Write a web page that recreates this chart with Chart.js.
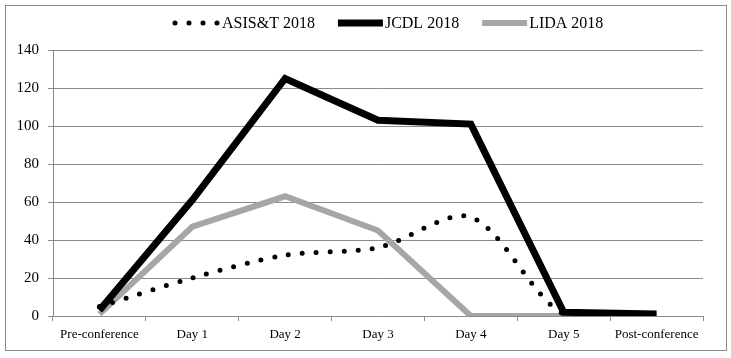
<!DOCTYPE html>
<html>
<head>
<meta charset="utf-8">
<script src="https://cdn.jsdelivr.net/npm/chart.js@4.4.1/dist/chart.umd.min.js"></script>
<style>
  body { margin: 0; background: #fff; }
  #frame { position: absolute; left: 5px; top: 5px; width: 720px; height: 344px; border: 1px solid #8a8a8a; }
  #wrap { position: absolute; left: 0; top: 0; width: 731px; height: 358px; }
</style>
</head>
<body>
<div id="frame"></div>
<div id="wrap"><canvas id="chart"></canvas></div>
<script>
const categories = ["Pre-conference", "Day 1", "Day 2", "Day 3", "Day 4", "Day 5", "Post-conference"];
const seriesNames = ["ASIS&T 2018", "JCDL 2018", "LIDA 2018"];
const asist = [5, 20, 32, 36, 52, 1, 1];
const jcdl = [3, 61, 125, 103, 101, 2, 1];
const lida = [1, 47, 63, 45, 0, 0, 0];
const yMin = 0;
const yMax = 140;
const yStep = 20;

const serif = "'Liberation Serif', 'Times New Roman', serif";
const gridGray = "#8a8a8a";

// legend drawn by hand so it sits where the original one does
const legendPlugin = {
  id: "topLegend",
  afterDraw(chart) {
    const ctx = chart.ctx;
    const y = 23;
    let x = 175;
    ctx.save();
    ctx.font = "16px " + serif;
    ctx.textBaseline = "middle";
    chart.data.datasets.forEach((ds) => {
      ctx.beginPath();
      ctx.strokeStyle = ds.borderColor;
      ctx.lineWidth = ds.borderWidth;
      ctx.lineCap = ds.borderCapStyle || "butt";
      ctx.setLineDash(ds.borderDash || []);
      ctx.moveTo(x, y);
      ctx.lineTo(x + 45, y);
      ctx.stroke();
      ctx.setLineDash([]);
      ctx.fillStyle = "#000";
      const tx = x + 47;
      ctx.fillText(ds.label, tx, y + 1);
      x = tx + ctx.measureText(ds.label).width + 23;
    });
    ctx.restore();
  },
};

new Chart(document.getElementById("chart").getContext("2d"), {
  type: "line",
  data: {
    labels: categories,
    datasets: [
      {
        label: seriesNames[0],
        data: asist,
        borderColor: "#000",
        borderWidth: 5,
        borderDash: [0, 14],
        borderCapStyle: "round",
        tension: 0.3,
        pointRadius: 0,
        fill: false,
      },
      {
        label: seriesNames[1],
        data: jcdl,
        borderColor: "#000",
        borderWidth: 7,
        borderCapStyle: "butt",
        borderJoinStyle: "miter",
        tension: 0,
        pointRadius: 0,
        fill: false,
      },
      {
        label: seriesNames[2],
        data: lida,
        borderColor: "#a6a6a6",
        borderWidth: 6,
        borderCapStyle: "butt",
        borderJoinStyle: "miter",
        tension: 0,
        pointRadius: 0,
        fill: false,
      },
    ],
  },
  options: {
    responsive: true,
    maintainAspectRatio: false,
    animation: false,
    layout: { padding: { top: 50, right: 28, left: 0, bottom: 0 } },
    plugins: {
      legend: { display: false },
      tooltip: { enabled: false },
    },
    scales: {
      x: {
        offset: true,
        grid: { offset: true, drawOnChartArea: false, drawTicks: true, tickLength: 5, color: gridGray },
        border: { color: gridGray },
        ticks: { color: "#000", font: { family: serif, size: 13 }, padding: 6, maxRotation: 0, autoSkip: false },
        afterFit(scale) { scale.height = 42; },
      },
      y: {
        min: yMin,
        max: yMax,
        ticks: { stepSize: yStep, color: "#000", font: { family: serif, size: 15 }, padding: 9 },
        grid: { color: gridGray, tickLength: 5 },
        border: { color: gridGray },
        afterFit(scale) { scale.width = 53; },
      },
    },
  },
  plugins: [legendPlugin],
});
</script>
</body>
</html>
